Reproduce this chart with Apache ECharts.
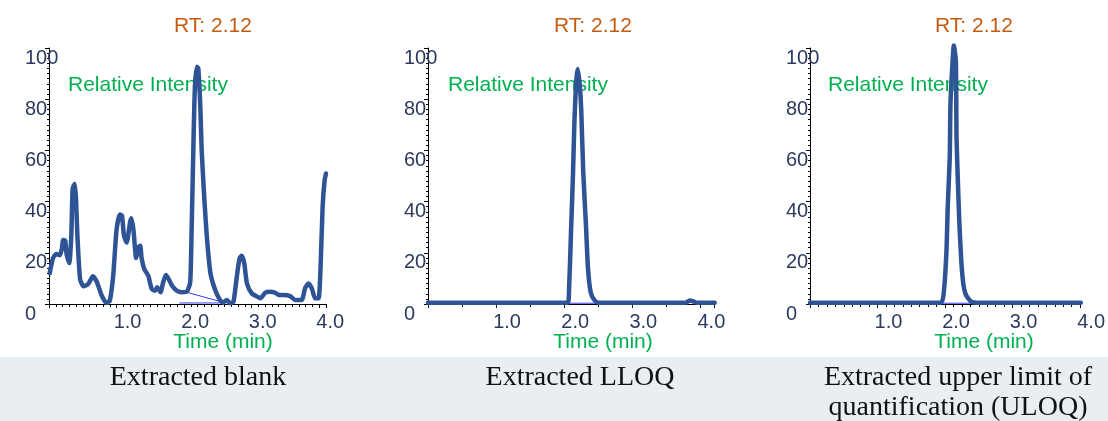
<!DOCTYPE html>
<html>
<head>
<meta charset="utf-8">
<script src="https://cdn.jsdelivr.net/npm/echarts@6/dist/echarts.min.js"></script>
<style>
html,body{margin:0;padding:0;background:#fff;}
#chart{width:1108px;height:421px;}
</style>
</head>
<body>
<div id="chart"></div>
<script>
// ---------- data ----------
const panelTitles = ['Extracted blank', 'Extracted LLOQ', 'Extracted upper limit of\nquantification (ULOQ)'];
const rtLabel = 'RT: 2.12';
const yAxisTitle = 'Relative Intensity';
const xAxisTitle = 'Time (min)';
const xTicks = [1.0, 2.0, 3.0, 4.0];
const yTicks = [0, 20, 40, 60, 80, 100];

const blankTime = [0.01,0.06,0.11,0.16,0.19,0.21,0.24,0.26,0.30,0.33,0.35,0.38,0.40,0.42,0.46,0.51,0.58,0.65,0.71,0.78,0.85,0.90,0.95,1.00,1.05,1.08,1.11,1.15,1.20,1.22,1.25,1.29,1.32,1.35,1.37,1.41,1.47,1.52,1.57,1.60,1.65,1.69,1.73,1.77,1.82,1.89,1.97,2.04,2.09,2.11,2.14,2.16,2.19,2.21,2.24,2.26,2.30,2.34,2.39,2.46,2.53,2.58,2.63,2.68,2.73,2.78,2.82,2.85,2.89,2.93,3.00,3.08,3.13,3.20,3.27,3.35,3.40,3.47,3.57,3.64,3.74,3.79,3.84,3.89,3.94,3.99,4.02,4.05,4.08,4.10];
const blankIntensity = [12,18,19.5,19,21.5,25,24.7,19.5,16,26.7,45,47,41,26.7,9.8,6.9,7.8,10.8,8.5,3.3,0.4,1.3,11,29,35,34.5,26.7,24,32,33.5,29,18,22,22.8,18,13.7,11,5.9,5.2,6.5,4.6,8.5,11.3,9.8,7.2,5.2,4.6,4.8,8.5,27.6,65,85,92.7,92,77,60,40.6,25,12,5.5,1.6,0.5,1.6,0.3,0.9,10.7,17.8,18.8,15.9,8,4.2,2.9,2.2,4.4,4.8,4.4,3.5,3.5,3.1,1.6,1.6,6.1,8,6.1,2.2,2.2,14.6,38,48.4,51];
const blankBaseTime = [1.93, 2.54];
const blankBaseDiag = [5.4, 0.9];
const blankBaseFlat = [0.4, 0.4];

const lloqTime = [0,2.05,2.07,2.10,2.13,2.15,2.18,2.20,2.23,2.25,2.28,2.32,2.35,2.39,2.45,2.51,3.79,3.84,3.89,3.94,4.21];
const lloqIntensity = [0.5,0.5,4.5,28,51.4,71,88,91.8,85,76,51.4,30.6,13.7,4.5,1.3,0.5,0.5,1.4,1.1,0.5,0.5];
const lloqBaseTime = [1.95, 2.63];
const lloqBase = [0.3, 0.3];

const uloqTime = [0,1.94,1.98,2.02,2.04,2.07,2.08,2.11,2.13,2.16,2.17,2.19,2.21,2.24,2.27,2.31,2.39,2.51,4.01];
const uloqIntensity = [0.5,0.5,4.2,20,38,57.5,78,94,101,95,65,48,32.8,17,8,3.5,0.9,0.5,0.5];
const uloqBaseTime = [1.94, 2.61];
const uloqBase = [0.3, 0.3];

// ---------- helpers ----------
const zip = (xs, ys) => xs.map((x, i) => [x, ys[i]]);
const lineColor = '#2f5496';
const labelColor = '#2b3a5e';
const green = '#00b050';
const orange = '#c55a11';

const grids = [
  {left: 49, top: 48, width: 277, height: 256, xmax: 4.1, minorSplit: 10},
  {left: 428, top: 48, width: 286, height: 256, xmax: 4.2, minorSplit: 2},
  {left: 810, top: 48, width: 271, height: 256, xmax: 4.0, minorSplit: 8}
];

const xAxes = grids.map((g, i) => ({
  type: 'value', gridIndex: i, min: 0, max: g.xmax, interval: 1,
  axisLine: {show: true, onZero: false, lineStyle: {color: '#000', width: 1}},
  axisTick: {show: true, length: 4, inside: false, lineStyle: {color: '#000'}},
  minorTick: {show: true, splitNumber: g.minorSplit, length: 3, lineStyle: {color: '#000'}},
  splitLine: {show: false},
  axisLabel: {
    show: true, margin: 8, color: labelColor, fontSize: 20,
    fontFamily: 'Liberation Sans, Arial, sans-serif',
    padding: [0, 0, 0, 22],
    showMinLabel: false, showMaxLabel: i === 2,
    formatter: v => (xTicks.indexOf(v) >= 0 ? v.toFixed(1) : '')
  }
}));

const yAxes = grids.map((g, i) => ({
  type: 'value', gridIndex: i, min: 0, max: 100, interval: 20,
  axisLine: {show: true, lineStyle: {color: '#000', width: 1}},
  axisTick: {show: true, length: 4, lineStyle: {color: '#000'}},
  minorTick: {show: true, splitNumber: 10, length: 2, lineStyle: {color: '#000'}},
  splitLine: {show: false},
  axisLabel: {
    show: true, margin: 24, align: 'left', verticalAlign: 'top',
    color: labelColor, fontSize: 20,
    fontFamily: 'Liberation Sans, Arial, sans-serif',
    formatter: v => (yTicks.indexOf(v) >= 0 ? String(v) : '')
  }
}));

function mainSeries(i, xs, ys) {
  return {
    type: 'line', xAxisIndex: i, yAxisIndex: i, data: zip(xs, ys),
    showSymbol: false, smooth: 0.2, clip: false, z: 3,
    lineStyle: {color: lineColor, width: 4.5, cap: 'round', join: 'round'}
  };
}
function baseSeries(i, xs, ys) {
  return {
    type: 'line', xAxisIndex: i, yAxisIndex: i, data: zip(xs, ys),
    showSymbol: false, clip: false, z: 2,
    lineStyle: {color: '#3a3aff', width: 1}
  };
}

const series = [
  baseSeries(0, blankBaseTime, blankBaseDiag),
  baseSeries(0, blankBaseTime, blankBaseFlat),
  mainSeries(0, blankTime, blankIntensity),
  baseSeries(1, lloqBaseTime, lloqBase),
  mainSeries(1, lloqTime, lloqIntensity),
  baseSeries(2, uloqBaseTime, uloqBase),
  mainSeries(2, uloqTime, uloqIntensity)
];

const sansFont = 'Liberation Sans, Arial, sans-serif';
const rtX = [213, 593, 974];
const riX = [68, 448, 828];
const tmX = [223, 603, 984];
const capX = [198, 580, 958];

const graphic = [
  {type: 'rect', shape: {x: 0, y: 357, width: 1108, height: 64}, style: {fill: '#e8eef2'}, z: 0}
];
for (let i = 0; i < 3; i++) {
  graphic.push({type: 'text', x: rtX[i], y: 26, z: 1,
    style: {text: rtLabel, fill: orange, font: '21px ' + sansFont, align: 'center', verticalAlign: 'middle'}});
  graphic.push({type: 'text', x: riX[i], y: 85, z: 1,
    style: {text: yAxisTitle, fill: green, font: '21px ' + sansFont, align: 'left', verticalAlign: 'middle'}});
  graphic.push({type: 'text', x: tmX[i], y: 342, z: 1,
    style: {text: xAxisTitle, fill: green, font: '21px ' + sansFont, align: 'center', verticalAlign: 'middle'}});
  graphic.push({type: 'text', x: capX[i], y: 363, z: 1,
    style: {text: panelTitles[i], fill: '#111', font: '28px Liberation Serif, Times New Roman, serif',
      align: 'center', verticalAlign: 'top', lineHeight: 30}});
}

const chart = echarts.init(document.getElementById('chart'), null, {renderer: 'canvas'});
chart.setOption({
  backgroundColor: '#ffffff',
  animation: false,
  grid: grids.map(g => ({left: g.left, top: g.top, width: g.width, height: g.height, containLabel: false})),
  xAxis: xAxes,
  yAxis: yAxes,
  series: series,
  graphic: graphic
});
</script>
</body>
</html>
